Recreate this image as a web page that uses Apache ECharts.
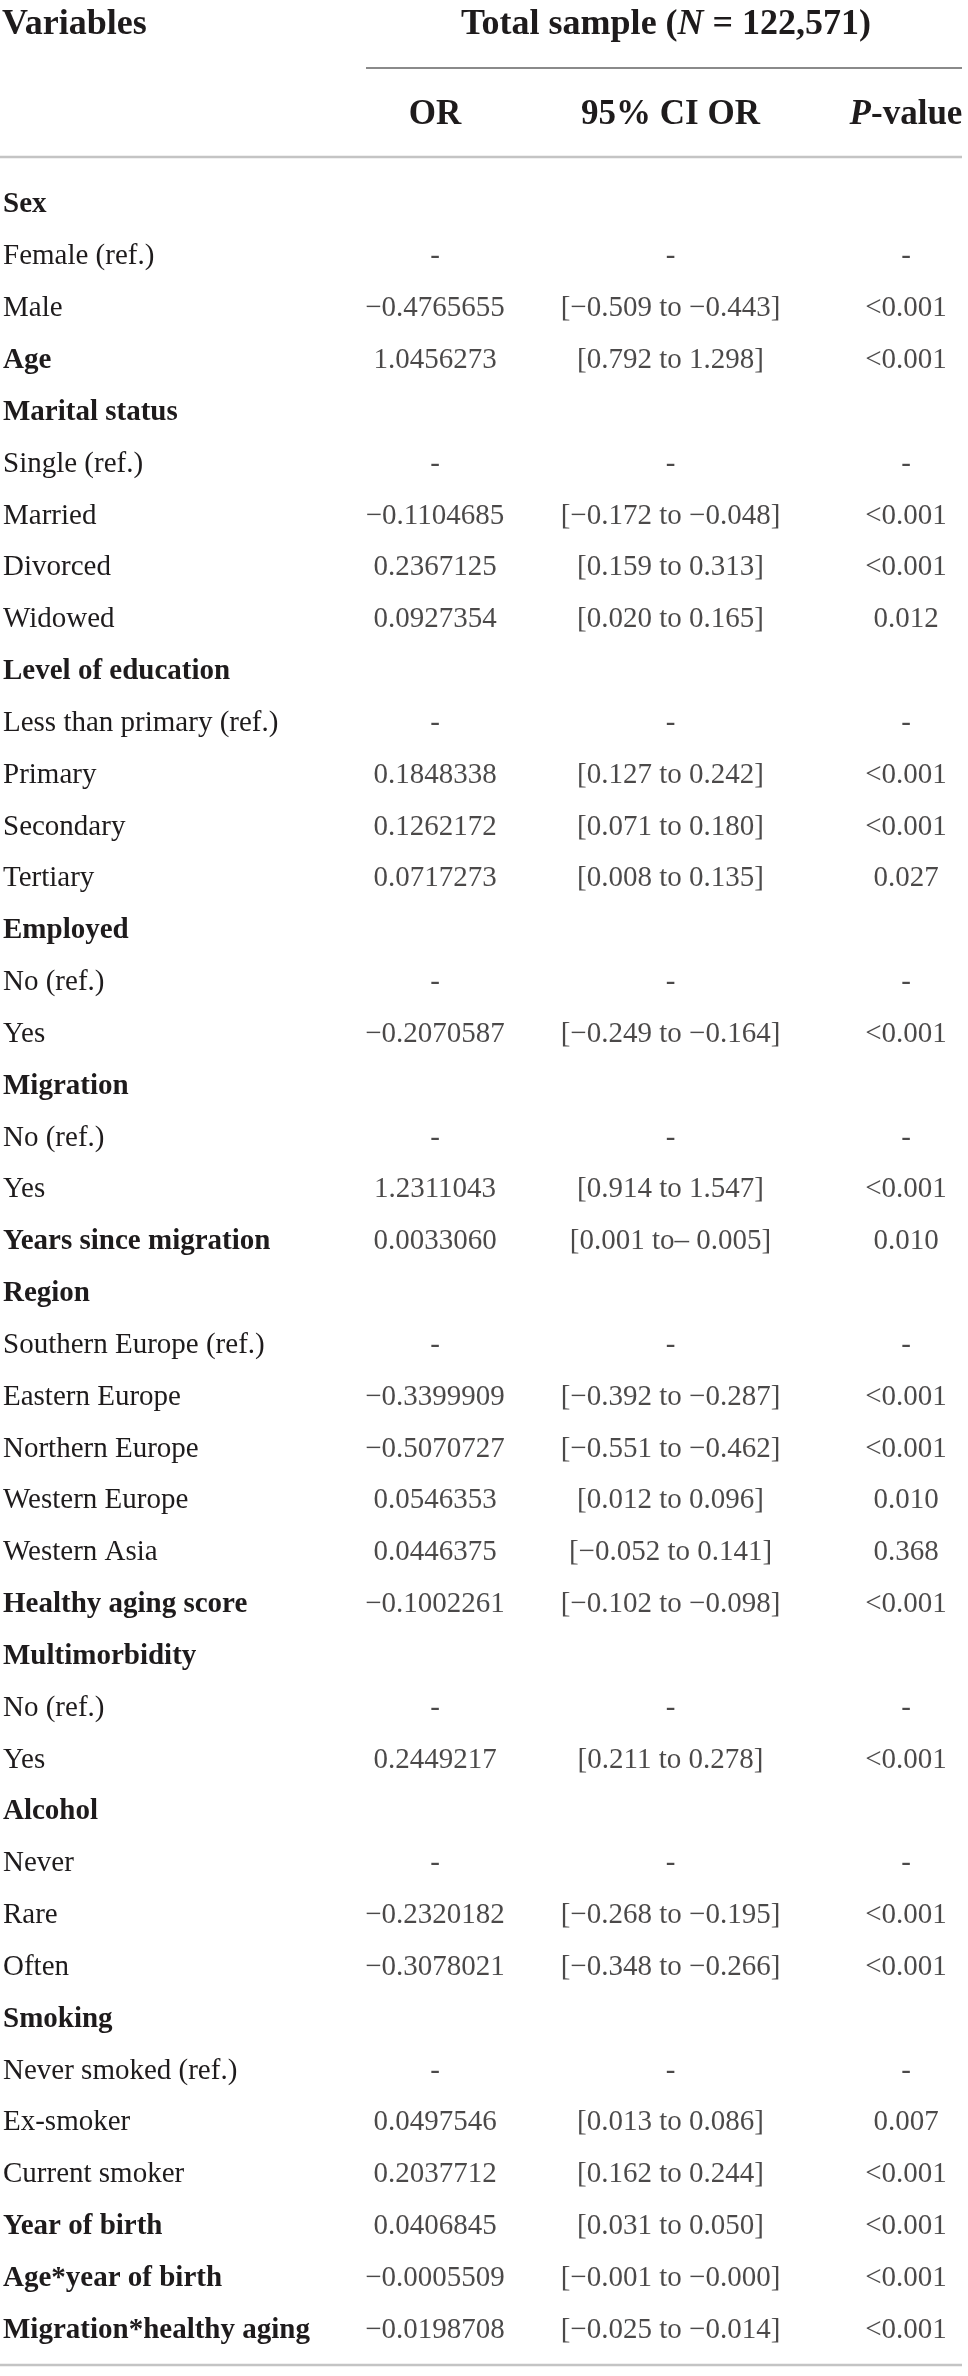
<!DOCTYPE html>
<html>
<head>
<meta charset="utf-8">
<script src="https://cdn.jsdelivr.net/npm/echarts@6/dist/echarts.min.js"></script>
<style>
  html, body { margin: 0; padding: 0; background: #fff; }
  #tableChart { width: 968px; height: 2376px; }
</style>
</head>
<body>
<div id="tableChart"></div>
<script>
// rows of the table (top to bottom)
var variables = [
    'Sex', 'Female (ref.)', 'Male', 'Age',
    'Marital status', 'Single (ref.)', 'Married', 'Divorced', 'Widowed',
    'Level of education', 'Less than primary (ref.)', 'Primary', 'Secondary', 'Tertiary',
    'Employed', 'No (ref.)', 'Yes',
    'Migration', 'No (ref.)', 'Yes', 'Years since migration',
    'Region', 'Southern Europe (ref.)', 'Eastern Europe', 'Northern Europe', 'Western Europe', 'Western Asia',
    'Healthy aging score',
    'Multimorbidity', 'No (ref.)', 'Yes',
    'Alcohol', 'Never', 'Rare', 'Often',
    'Smoking', 'Never smoked (ref.)', 'Ex-smoker', 'Current smoker',
    'Year of birth', 'Age*year of birth', 'Migration*healthy aging'
];
// 1 = bold row label
var boldRow = [
    1, 0, 0, 1,
    1, 0, 0, 0, 0,
    1, 0, 0, 0, 0,
    1, 0, 0,
    1, 0, 0, 1,
    1, 0, 0, 0, 0, 0,
    1,
    1, 0, 0,
    1, 0, 0, 0,
    1, 0, 0, 0,
    1, 1, 1
];
var orValues = [
    '', '-', '−0.4765655', '1.0456273',
    '', '-', '−0.1104685', '0.2367125', '0.0927354',
    '', '-', '0.1848338', '0.1262172', '0.0717273',
    '', '-', '−0.2070587',
    '', '-', '1.2311043', '0.0033060',
    '', '-', '−0.3399909', '−0.5070727', '0.0546353', '0.0446375',
    '−0.1002261',
    '', '-', '0.2449217',
    '', '-', '−0.2320182', '−0.3078021',
    '', '-', '0.0497546', '0.2037712',
    '0.0406845', '−0.0005509', '−0.0198708'
];
var ciValues = [
    '', '-', '[−0.509 to −0.443]', '[0.792 to 1.298]',
    '', '-', '[−0.172 to −0.048]', '[0.159 to 0.313]', '[0.020 to 0.165]',
    '', '-', '[0.127 to 0.242]', '[0.071 to 0.180]', '[0.008 to 0.135]',
    '', '-', '[−0.249 to −0.164]',
    '', '-', '[0.914 to 1.547]', '[0.001 to– 0.005]',
    '', '-', '[−0.392 to −0.287]', '[−0.551 to −0.462]', '[0.012 to 0.096]', '[−0.052 to 0.141]',
    '[−0.102 to −0.098]',
    '', '-', '[0.211 to 0.278]',
    '', '-', '[−0.268 to −0.195]', '[−0.348 to −0.266]',
    '', '-', '[0.013 to 0.086]', '[0.162 to 0.244]',
    '[0.031 to 0.050]', '[−0.001 to −0.000]', '[−0.025 to −0.014]'
];
var pValues = [
    '', '-', '<0.001', '<0.001',
    '', '-', '<0.001', '<0.001', '0.012',
    '', '-', '<0.001', '<0.001', '0.027',
    '', '-', '<0.001',
    '', '-', '<0.001', '0.010',
    '', '-', '<0.001', '<0.001', '0.010', '0.368',
    '<0.001',
    '', '-', '<0.001',
    '', '-', '<0.001', '<0.001',
    '', '-', '0.007', '<0.001',
    '<0.001', '<0.001', '<0.001'
];
var columns = ['OR', '95% CI OR', 'P-value'];

var FONT = '"Liberation Serif", "DejaVu Serif", serif';
var INK = '#1e1b1c';

function columnSeries(colIndex, values) {
    var data = [];
    for (var i = 0; i < values.length; i++) {
        if (values[i] !== '') {
            data.push({ value: [colIndex, i], cell: values[i] });
        }
    }
    return {
        type: 'scatter',
        symbolSize: 1,
        itemStyle: { color: 'rgba(0,0,0,0)' },
        silent: true,
        label: {
            show: true,
            position: 'inside',
            fontFamily: FONT,
            fontSize: 29,
            color: INK,
            formatter: function (p) { return p.data.cell; }
        },
        data: data
    };
}

var myChart = echarts.init(document.getElementById('tableChart'));
var option = {
    backgroundColor: '#fff',
    animation: false,
    grid: { left: 434, right: 62, top: 179, bottom: 20 },
    xAxis: {
        type: 'category',
        position: 'top',
        boundaryGap: false,
        data: columns,
        axisLine: { show: false },
        axisTick: { show: false },
        splitLine: { show: false },
        axisLabel: {
            interval: 0,
            margin: 64,
            verticalAlign: 'middle',
            formatter: function (v) {
                if (v === 'P-value') return '{i|P}{b|-value}';
                return '{b|' + v + '}';
            },
            rich: {
                b: { fontFamily: FONT, fontSize: 35, fontWeight: 'bold', color: INK },
                i: { fontFamily: FONT, fontSize: 35, fontWeight: 'bold', fontStyle: 'italic', color: INK }
            }
        }
    },
    yAxis: {
        type: 'category',
        inverse: true,
        data: variables,
        axisLine: { show: false },
        axisTick: { show: false },
        splitLine: { show: false },
        axisLabel: {
            interval: 0,
            margin: 432,
            align: 'left',
            formatter: function (v, idx) {
                return (boldRow[idx] ? '{b|' : '{r|') + v + '}';
            },
            rich: {
                b: { fontFamily: FONT, fontSize: 29, fontWeight: 'bold', color: INK },
                r: { fontFamily: FONT, fontSize: 29, color: INK }
            }
        }
    },
    graphic: [
        {
            type: 'text', x: 2, y: 25,
            style: {
                text: 'Variables', fill: INK,
                font: 'bold 36px ' + FONT,
                align: 'left', verticalAlign: 'middle'
            }
        },
        {
            type: 'text', x: 666, y: 25,
            style: {
                text: '{b|Total sample (}{i|N}{b| = 122,571)}',
                align: 'center', verticalAlign: 'middle',
                rich: {
                    b: { fill: INK, font: 'bold 36px ' + FONT },
                    i: { fill: INK, font: 'italic bold 36px ' + FONT }
                }
            }
        },
        { type: 'line', shape: { x1: 366, y1: 68, x2: 962, y2: 68 }, style: { stroke: '#8a8a8a', lineWidth: 2 } },
        { type: 'line', shape: { x1: 0, y1: 157, x2: 962, y2: 157 }, style: { stroke: '#c4c4c4', lineWidth: 2.5 } },
        { type: 'line', shape: { x1: 0, y1: 2365, x2: 962, y2: 2365 }, style: { stroke: '#c4c4c4', lineWidth: 2.5 } }
    ],
    series: [
        columnSeries(0, orValues),
        columnSeries(1, ciValues),
        columnSeries(2, pValues)
    ]
};
myChart.setOption(option);
</script>
</body>
</html>
